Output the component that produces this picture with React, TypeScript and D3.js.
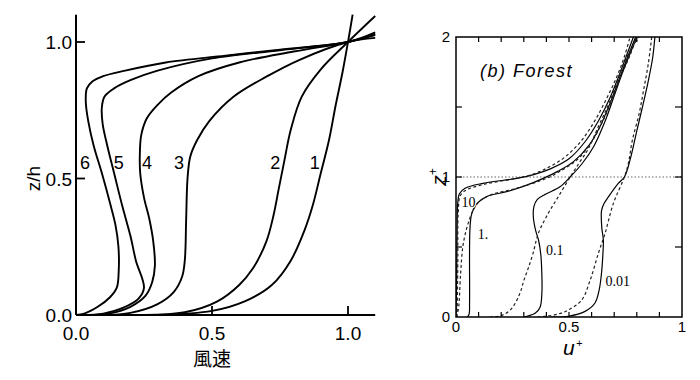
import React from "react";
import * as d3 from "d3";

type P = [number, number];

// ---------- Left panel data (x = 風速, y = z/h) ----------
const leftTicksX = [0, 0.5, 1.0];
const leftTicksY = [0, 0.5, 1.0];
const curve1: P[] = [[0.3,0],[0.5,0.015],[0.62,0.05],[0.72,0.11],[0.79,0.2],[0.84,0.31],[0.87,0.4],[0.9,0.52],[0.93,0.64],[0.955,0.77],[0.98,0.89],[1.0,1.0],[1.017,1.1]];
const curve2: P[] = [[0.25,0],[0.4,0.01],[0.52,0.05],[0.6,0.11],[0.65,0.17],[0.7,0.27],[0.725,0.36],[0.745,0.46],[0.765,0.56],[0.79,0.68],[0.83,0.8],[0.9,0.9],[1.0,1.0],[1.1,1.095]];
const curve3: P[] = [[0.1,0],[0.2,0.008],[0.3,0.04],[0.36,0.085],[0.39,0.14],[0.4,0.2],[0.405,0.35],[0.41,0.5],[0.42,0.58],[0.445,0.64],[0.49,0.71],[0.58,0.8],[0.7,0.873],[0.82,0.934],[1.0,1.0],[1.1,1.015]];
const curve4: P[] = [[0.04,0],[0.12,0.005],[0.2,0.03],[0.255,0.07],[0.28,0.12],[0.29,0.18],[0.284,0.27],[0.27,0.35],[0.25,0.43],[0.236,0.52],[0.235,0.6],[0.24,0.66],[0.26,0.72],[0.3,0.77],[0.35,0.815],[0.45,0.875],[0.6,0.925],[0.8,0.965],[1.0,1.0],[1.1,1.025]];
const curve5: P[] = [[0.02,0],[0.1,0.005],[0.17,0.025],[0.23,0.06],[0.25,0.1],[0.22,0.2],[0.2,0.29],[0.17,0.4],[0.14,0.52],[0.115,0.62],[0.098,0.7],[0.095,0.76],[0.105,0.8],[0.14,0.83],[0.2,0.86],[0.3,0.895],[0.5,0.94],[0.75,0.97],[1.0,1.0],[1.1,1.03]];
const curve6: P[] = [[0,0],[0.03,0.005],[0.08,0.03],[0.125,0.065],[0.15,0.1],[0.157,0.16],[0.156,0.25],[0.145,0.33],[0.125,0.41],[0.095,0.52],[0.065,0.62],[0.045,0.71],[0.036,0.78],[0.04,0.83],[0.06,0.855],[0.1,0.875],[0.18,0.895],[0.33,0.925],[0.55,0.95],[0.75,0.972],[1.0,1.0],[1.1,1.035]];
const leftCurves = [curve1, curve2, curve3, curve4, curve5, curve6];
const leftLabels = ["1", "2", "3", "4", "5", "6"];
const leftLabelX = [0.878, 0.733, 0.379, 0.261, 0.157, 0.033];
const leftLabelY = 0.56;

// ---------- Right panel data (x = u+, y = z+) ----------
const rightTicksX = [0, 0.5, 1];
const rightTicksY = [0, 1, 2];
const minorX = [0.1, 0.2, 0.3, 0.4, 0.5, 0.6, 0.7, 0.8, 0.9];
const minorY = [0.5, 1, 1.5];
const solid10: P[] = [[0,0],[0.003,0.3],[0.005,0.6],[0.008,0.82],[0.015,0.88],[0.04,0.92],[0.12,0.955],[0.27,0.99],[0.34,1.015],[0.42,1.06],[0.5,1.13],[0.57,1.25],[0.63,1.4],[0.68,1.56],[0.72,1.72],[0.755,1.87],[0.785,2.0]];
const dashed10: P[] = [[0.005,0],[0.008,0.4],[0.01,0.75],[0.02,0.87],[0.05,0.91],[0.13,0.95],[0.25,0.985],[0.34,1.02],[0.41,1.07],[0.48,1.14],[0.55,1.25],[0.61,1.39],[0.66,1.54],[0.71,1.71],[0.745,1.86],[0.77,2.0]];
const solid1: P[] = [[0.05,0],[0.058,0.02],[0.06,0.1],[0.062,0.64],[0.07,0.74],[0.092,0.81],[0.136,0.86],[0.224,0.895],[0.31,0.94],[0.386,0.99],[0.45,1.04],[0.52,1.11],[0.59,1.23],[0.64,1.37],[0.68,1.52],[0.72,1.69],[0.76,1.86],[0.795,2.0]];
const dashed1: P[] = [[0,0],[0.01,0.05],[0.02,0.3],[0.03,0.5],[0.045,0.62],[0.06,0.7],[0.075,0.76],[0.1,0.82],[0.15,0.87],[0.27,0.92],[0.4,0.99],[0.47,1.05],[0.54,1.13],[0.6,1.25],[0.65,1.4],[0.69,1.55],[0.73,1.72],[0.77,1.87],[0.8,2.0]];
const solid01: P[] = [[0.3,0],[0.35,0.026],[0.372,0.07],[0.38,0.17],[0.38,0.3],[0.375,0.45],[0.365,0.55],[0.352,0.62],[0.342,0.72],[0.345,0.79],[0.36,0.84],[0.4,0.88],[0.46,0.93],[0.505,1.0],[0.56,1.1],[0.61,1.22],[0.66,1.4],[0.7,1.58],[0.74,1.76],[0.775,1.9],[0.8,2.0]];
const dashed01: P[] = [[0.15,0],[0.2,0.01],[0.246,0.06],[0.283,0.17],[0.3,0.26],[0.32,0.35],[0.34,0.45],[0.365,0.6],[0.408,0.74],[0.453,0.86],[0.505,1.0],[0.545,1.1],[0.585,1.2],[0.63,1.36],[0.67,1.5],[0.7,1.62],[0.74,1.8],[0.77,1.9],[0.81,2.0]];
const solid001: P[] = [[0.42,0],[0.497,0.005],[0.571,0.04],[0.615,0.1],[0.633,0.19],[0.643,0.3],[0.65,0.45],[0.652,0.55],[0.645,0.64],[0.644,0.76],[0.655,0.81],[0.675,0.86],[0.718,0.955],[0.745,1.0],[0.77,1.12],[0.8,1.33],[0.825,1.5],[0.85,1.68],[0.87,1.85],[0.88,2.0]];
const dashed001: P[] = [[0.36,0],[0.394,0.005],[0.45,0.02],[0.497,0.05],[0.556,0.12],[0.593,0.26],[0.63,0.455],[0.66,0.6],[0.696,0.81],[0.745,1.0],[0.763,1.1],[0.78,1.26],[0.81,1.45],[0.83,1.62],[0.85,1.8],[0.866,2.0]];
const solidCurves = [solid10, solid1, solid01, solid001];
const dashedCurves = [dashed10, dashed1, dashed01, dashed001];
const rightLabels = ["10", "1.", "0.1", "0.01"];
const rightLabelX = [0.055, 0.12, 0.437, 0.716];
const rightLabelY = [0.82, 0.59, 0.48, 0.26];

export default function App() {
  // left scales
  const lx = d3.scaleLinear().domain([0, 1]).range([76, 348]);
  const ly = d3.scaleLinear().domain([0, 1]).range([315, 42]);
  // right scales
  const rx = d3.scaleLinear().domain([0, 1]).range([456, 682]);
  const ry = d3.scaleLinear().domain([0, 2]).range([317, 37]);

  const lline = d3.line<P>().x(d => lx(d[0])).y(d => ly(d[1])).curve(d3.curveCatmullRom.alpha(0.5));
  const rline = d3.line<P>().x(d => rx(d[0])).y(d => ry(d[1])).curve(d3.curveCatmullRom.alpha(0.5));

  const sans = "'Liberation Sans', Arial, sans-serif";
  const serif = "'Liberation Serif', 'Times New Roman', serif";

  return (
    <svg width={700} height={380} viewBox="0 0 700 380" style={{ position: "absolute", left: 0, top: 0, background: "#fff" }}>
      <defs>
        <clipPath id="rclip">
          <rect x={rx(0)} y={ry(2)} width={rx(1) - rx(0)} height={ry(0) - ry(2)} />
        </clipPath>
      </defs>
      <rect x={0} y={0} width={700} height={380} fill="#fff" />

      {/* ---------- Left panel ---------- */}
      <g>
        <line x1={lx(0)} x2={lx(0)} y1={ly(0)} y2={ly(1.1)} stroke="#000" strokeWidth={2} />
        <line x1={lx(0)} x2={lx(1.1)} y1={ly(0)} y2={ly(0)} stroke="#000" strokeWidth={2} />
        {leftTicksY.map(t => (
          <g key={"ly" + t}>
            <line x1={lx(0)} x2={lx(0) + 9} y1={ly(t)} y2={ly(t)} stroke="#000" strokeWidth={1.8} />
            <text x={lx(0) - 4} y={ly(t) + 7} textAnchor="end" fontFamily={sans} fontSize={19}>{t.toFixed(1)}</text>
          </g>
        ))}
        {leftTicksX.map(t => (
          <g key={"lx" + t}>
            {t > 0 && <line x1={lx(t)} x2={lx(t)} y1={ly(0)} y2={ly(0) - 9} stroke="#000" strokeWidth={1.8} />}
            <text x={lx(t)} y={ly(0) + 25} textAnchor="middle" fontFamily={sans} fontSize={19}>{t.toFixed(1)}</text>
          </g>
        ))}
        <text x={lx(0.5)} y={366} textAnchor="middle" fontFamily="'Noto Sans CJK JP', 'Noto Sans CJK SC', sans-serif" fontSize={19}>風速</text>
        <text transform={`translate(40,${ly(0.5)}) rotate(-90)`} textAnchor="middle" fontFamily={sans} fontSize={19}>z/h</text>
        {leftCurves.map((c, i) => (
          <path key={"lc" + i} d={lline(c) || ""} fill="none" stroke="#000" strokeWidth={1.9} />
        ))}
        {leftLabels.map((s, i) => (
          <text key={"ll" + i} x={lx(leftLabelX[i])} y={ly(leftLabelY) + 7} textAnchor="middle" fontFamily={sans} fontSize={18}>{s}</text>
        ))}
      </g>

      {/* ---------- Right panel ---------- */}
      <g>
        <line x1={rx(0)} x2={rx(1)} y1={ry(1)} y2={ry(1)} stroke="#666" strokeWidth={1} strokeDasharray="1.5,2" />
        <g clipPath="url(#rclip)">
          {solidCurves.map((c, i) => (
            <path key={"rs" + i} d={rline(c) || ""} fill="none" stroke="#000" strokeWidth={1.2} />
          ))}
          {dashedCurves.map((c, i) => (
            <path key={"rd" + i} d={rline(c) || ""} fill="none" stroke="#222" strokeWidth={1.2} strokeDasharray="3,2.5" />
          ))}
        </g>
        <rect x={rx(0)} y={ry(2)} width={rx(1) - rx(0)} height={ry(0) - ry(2)} fill="none" stroke="#000" strokeWidth={1.5} />
        {minorX.map(t => (
          <g key={"mx" + t}>
            <line x1={rx(t)} x2={rx(t)} y1={ry(0)} y2={ry(0) - 5} stroke="#000" strokeWidth={1.2} />
            <line x1={rx(t)} x2={rx(t)} y1={ry(2)} y2={ry(2) + 5} stroke="#000" strokeWidth={1.2} />
          </g>
        ))}
        {minorY.map(t => (
          <g key={"my" + t}>
            <line x1={rx(0)} x2={rx(0) + 6} y1={ry(t)} y2={ry(t)} stroke="#000" strokeWidth={1.2} />
            <line x1={rx(1)} x2={rx(1) - 7} y1={ry(t)} y2={ry(t)} stroke="#000" strokeWidth={1.2} />
          </g>
        ))}
        {rightTicksX.map(t => (
          <text key={"rtx" + t} x={rx(t)} y={ry(0) + 15} textAnchor="middle" fontFamily={sans} fontSize={15}>{String(t)}</text>
        ))}
        {rightTicksY.map(t => (
          <text key={"rty" + t} x={rx(0) - 6} y={ry(t) + 5} textAnchor="end" fontFamily={sans} fontSize={15}>{String(t)}</text>
        ))}
        <text x={rx(0.5) - 6} y={355} fontFamily={sans} fontSize={21} fontStyle="italic">u</text>
        <text x={rx(0.5) + 7} y={347} fontFamily={sans} fontSize={11} fontStyle="italic">+</text>
        <text transform={`translate(446,${ry(1)}) rotate(-90)`} textAnchor="middle" fontFamily={sans} fontSize={21} fontStyle="italic">
          z<tspan fontSize={12} dy={-9}>+</tspan>
        </text>
        <text x={480} y={77} fontFamily={sans} fontSize={18} fontStyle="italic" letterSpacing={1.5}>(b)  Forest</text>
        {rightLabels.map((s, i) => (
          <text key={"rl" + i} x={rx(rightLabelX[i])} y={ry(rightLabelY[i]) + 5} textAnchor="middle" fontFamily={serif} fontSize={14} style={{ paintOrder: "stroke" }} stroke="#fff" strokeWidth={2}>{s}</text>
        ))}
      </g>
    </svg>
  );
}
